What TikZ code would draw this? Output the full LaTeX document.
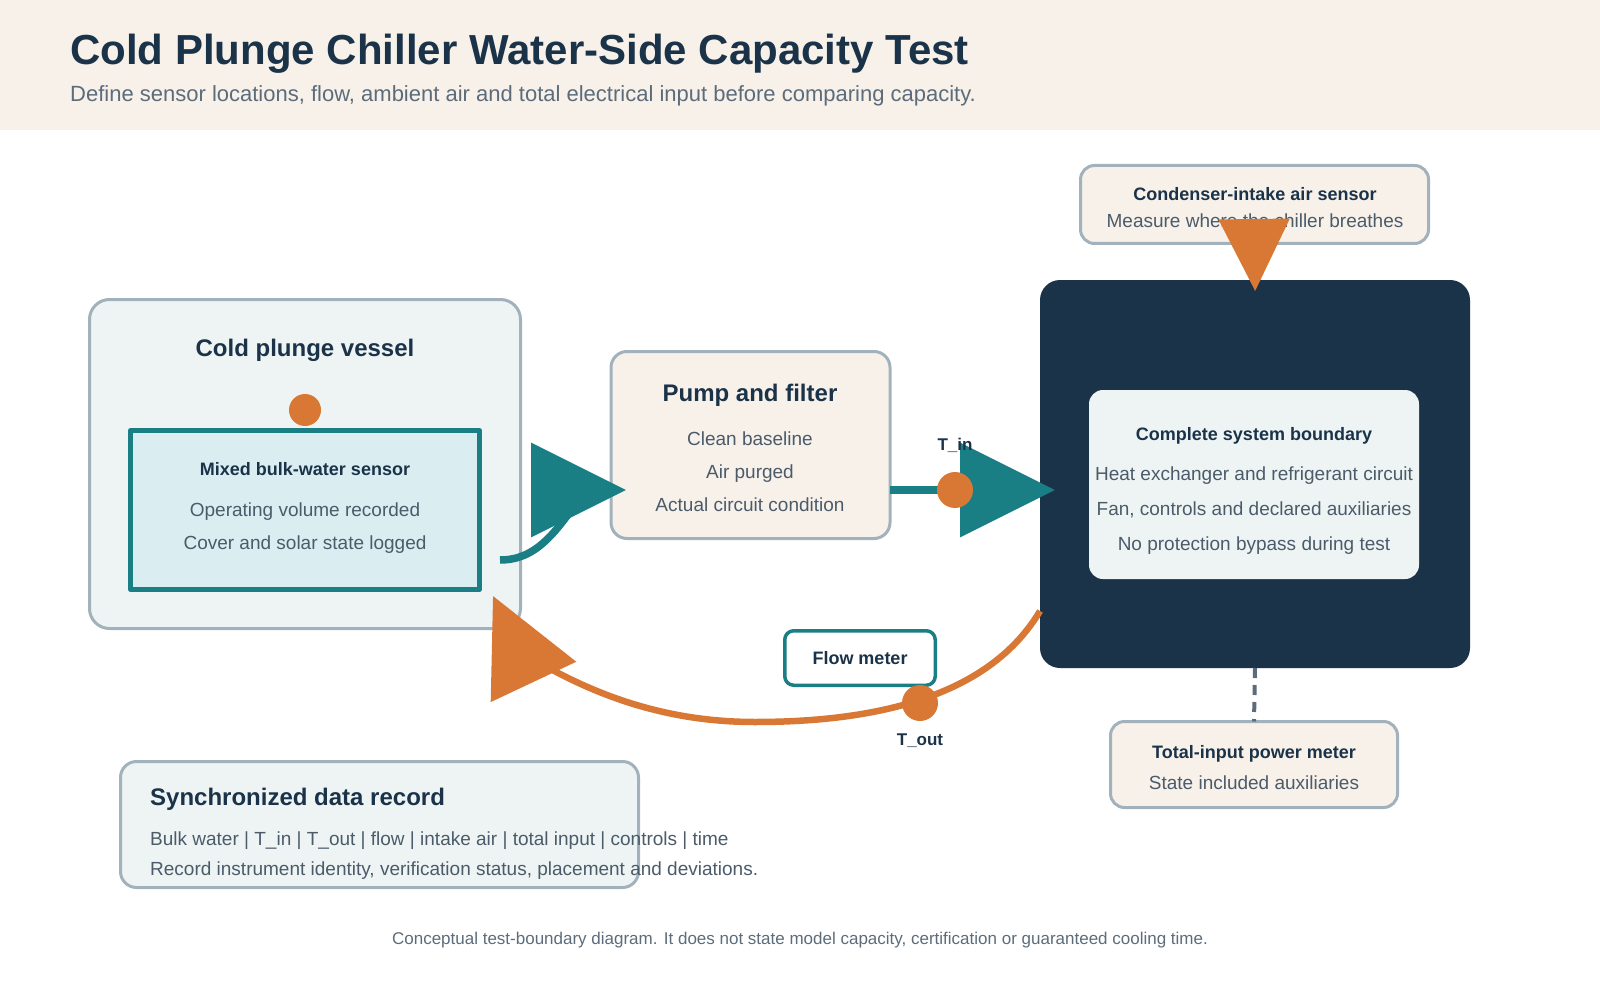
\documentclass[tikz,border=0pt]{standalone}
\usepackage{fontspec}
\setmainfont{Liberation Sans}
\usetikzlibrary{arrows.meta}

\definecolor{navy}{HTML}{1B3349}
\definecolor{inkgrey}{HTML}{4B5B6A}
\definecolor{slate}{HTML}{5C6C7B}
\definecolor{edgegrey}{HTML}{A2B2BD}
\definecolor{flowteal}{HTML}{1A7E85}
\definecolor{flame}{HTML}{D97834}
\definecolor{cream}{HTML}{F7F1EA}
\definecolor{mist}{HTML}{EEF4F4}
\definecolor{icewater}{HTML}{DAEEF2}

\begin{document}
\begin{tikzpicture}[x=1pt, y=-1pt, line cap=butt, line join=round,
    panel/.style={draw=edgegrey, line width=3pt, rounded corners=18pt, anchor=north west, inner sep=0pt, outer sep=0pt},
    boxhead/.style={font=\bfseries\fontsize{24}{28}\selectfont, text=navy, anchor=base, inner sep=0pt},
    boxsub/.style={font=\bfseries\fontsize{18}{22}\selectfont, text=navy, anchor=base, inner sep=0pt},
    boxline/.style={font=\fontsize{19}{23}\selectfont, text=inkgrey, anchor=base, inner sep=0pt},
    probe/.style={circle, fill=flame, minimum size=36pt, inner sep=0pt},
    wet/.style={draw=flowteal, line width=7.5pt},
    back/.style={draw=flame, line width=6.5pt},
    bigtip/.style={-{Triangle[length=95pt, width=93pt]}}]
    \useasboundingbox (0,0) rectangle (1600,1000);

    % header
    \fill[cream] (0,0) rectangle (1600,130);
    \node[anchor=base west, inner sep=0pt, text=navy, font=\bfseries\fontsize{42}{50}\selectfont] (title) at (70,65) {Cold Plunge Chiller Water-Side Capacity Test};
    \node[anchor=base west, inner sep=0pt, text=slate, font=\fontsize{22}{26}\selectfont] (subtitle) at (70,102) {Define sensor locations, flow, ambient air and total electrical input before comparing capacity.};

    % vessel
    \node[panel, fill=mist, minimum width=431pt, minimum height=329pt, rounded corners=20pt] (vessel) at (89.5,299.5) {};
    \node[boxhead] (vessel-title) at (305,356) {Cold plunge vessel};
    \node[draw=flowteal, fill=icewater, line width=5pt, anchor=north west, outer sep=0pt, minimum width=349pt, minimum height=159pt] (sensor) at (130.5,430.5) {};
    \node[probe, minimum size=32pt] (bulkdot) at (305,410) {};
    \node[boxsub] (sensor-title) at (305,475) {Mixed bulk-water sensor};
    \foreach \txt [count=\i] in {Operating volume recorded, Cover and solar state logged}
        \node[boxline] (sensor-\i) at (305, {483+33*\i}) {\txt};

    % pump
    \node[panel, fill=cream, minimum width=279pt, minimum height=187pt, rounded corners=16pt] (pump) at (611,351.5) {};
    \node[boxhead] (pump-title) at (750,401) {Pump and filter};
    \foreach \txt [count=\i] in {Clean baseline, Air purged, Actual circuit condition}
        \node[boxline] (pump-\i) at (750, {412+33*\i}) {\txt};

    % chiller and its sensors
    \node[panel, fill=cream, minimum width=348pt, minimum height=78pt, rounded corners=14pt] (cond) at (1080.5,165.5) {};
    \node[boxsub] (cond-title) at (1255,200.5) {Condenser-intake air sensor};
    \node[boxline] (cond-1) at (1255,228) {Measure where the chiller breathes};
    \node[fill=navy, rounded corners=20pt, anchor=north west, outer sep=0pt, minimum width=430pt, minimum height=388pt] (chiller) at (1040,280) {};
    \node[fill=mist, rounded corners=14pt, anchor=north west, outer sep=0pt, minimum width=330pt, minimum height=189pt] (inner) at (1089,390) {};
    \node[boxsub] (inner-title) at (1254,440.5) {Complete system boundary};
    \foreach \txt [count=\i] in {Heat exchanger and refrigerant circuit, {Fan, controls and declared auxiliaries}, No protection bypass during test}
        \node[boxline] (inner-\i) at (1254, {445+35*\i}) {\txt};
    \node[panel, fill=cream, minimum width=287pt, minimum height=86pt, rounded corners=14pt] (power) at (1110.5,721.5) {};
    \node[boxsub] (power-title) at (1254,758.5) {Total-input power meter};
    \node[boxline] (power-1) at (1254,789) {State included auxiliaries};
    \draw[slate, line width=4pt, dash pattern=on 10pt off 7pt] (chiller.south) -- (power.north);
    \node[draw=flowteal, fill=white, line width=3.5pt, rounded corners=9pt, anchor=north west, outer sep=0pt, minimum width=150.5pt, minimum height=54.5pt, font=\bfseries\fontsize{18}{22}\selectfont, text=navy] (flowm) at (784.75,630.75) {Flow meter};

    % record
    \node[panel, fill=mist, minimum width=518pt, minimum height=126pt, rounded corners=16pt] (record) at (120.5,761.5) {};
    \node[boxhead, anchor=base west] (record-title) at (150,805.5) {Synchronized data record};
    \node[boxline, anchor=base west] (record-1) at (150,845) {Bulk water | T\_in | T\_out | flow | intake air | total input | controls | time};
    \node[boxline, anchor=base west] (record-2) at (150,875) {Record instrument identity, verification status, placement and deviations.};

    % water loop
    \coordinate (sout) at (500,560);
    \coordinate (pbend) at (585,490);
    \coordinate (ptip) at (626,490);
    \draw[wet, bigtip] (sout) .. controls (535,560) and (555,535) .. (pbend) -- (ptip);
    \coordinate (tin) at (955,490);
    \draw[wet, bigtip, shorten >=-15pt] (pump.east |- tin) -- (chiller.west |- tin);
    \coordinate (rin) at (1040,611);
    \coordinate (rlow) at (755,722);
    \coordinate (rbend) at (518.6,650.3);
    \coordinate (rtip) at (493,596);
    \draw[back, bigtip] (rin) .. controls (990,695) and (880,722) .. (rlow) .. controls (665,722) and (590,695) .. (rbend) -- (rtip);
    \draw[flame, line width=5.5pt, -{Triangle[length=72pt, width=70pt]}, shorten >=-11pt] (cond.south) -- (chiller.north);

    \node[probe] (tindot) at (tin) {};
    \node[probe] (toutdot) at (920,703) {};
    \node[boxsub, font=\bfseries\fontsize{17}{20}\selectfont] (tin-label) at (955,450) {T\_in};
    \node[boxsub, font=\bfseries\fontsize{17}{20}\selectfont] (tout-label) at (920,745) {T\_out};

    \node[anchor=base, inner sep=0pt, text=slate, font=\fontsize{17}{20}\selectfont] (footer) at (800,944) {Conceptual test-boundary diagram. It does not state model capacity, certification or guaranteed cooling time.};
\end{tikzpicture}
\end{document}
